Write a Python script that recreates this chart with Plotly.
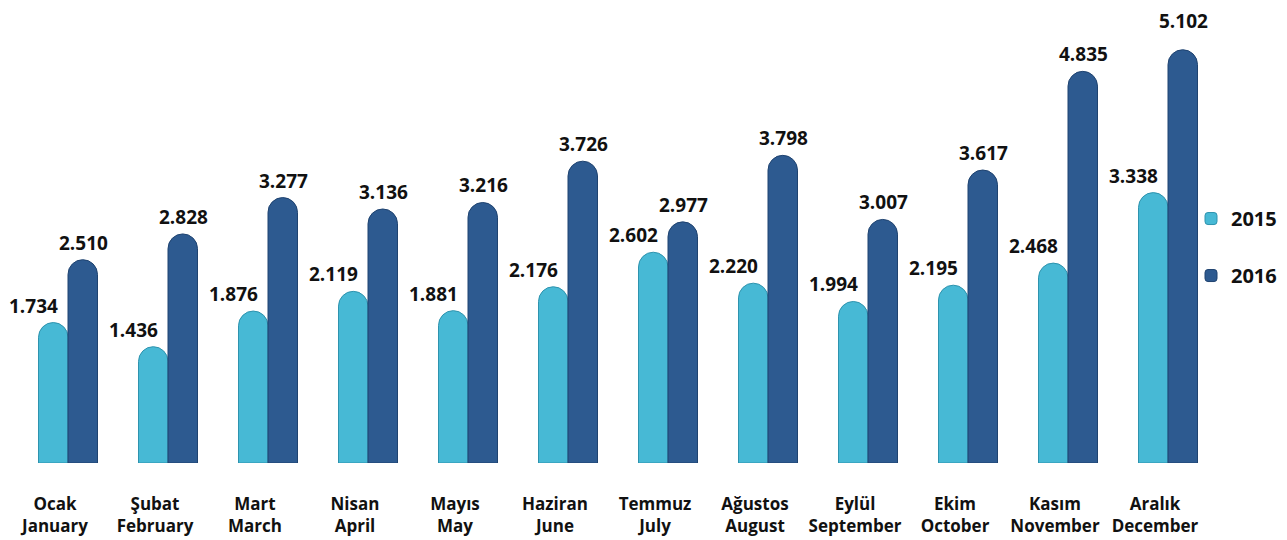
import plotly.graph_objects as go

# aylar / months (Türkçe + English)
months_tr = ["Ocak", "Şubat", "Mart", "Nisan", "Mayıs", "Haziran",
             "Temmuz", "Ağustos", "Eylül", "Ekim", "Kasım", "Aralık"]
months_en = ["January", "February", "March", "April", "May", "June",
             "July", "August", "September", "October", "November", "December"]

values_2015 = [1734, 1436, 1876, 2119, 1881, 2176, 2602, 2220, 1994, 2195, 2468, 3338]
values_2016 = [2510, 2828, 3277, 3136, 3216, 3726, 2977, 3798, 3007, 3617, 4835, 5102]

categories = [f"{tr}<br>{en}" for tr, en in zip(months_tr, months_en)]

FONT = "Open Sans"
COL_2015 = "#47B9D5"
COL_2016 = "#2D5A90"


def fmt(v):
    # Türkçe binlik ayırıcı: 1.734
    return f"{v:,}".replace(",", ".")


fig = go.Figure()
fig.add_trace(go.Bar(
    x=categories, y=values_2015, name="2015",
    marker=dict(color=COL_2015, line=dict(color="#2E93AE", width=1)),
    legendgroup="a",
))
fig.add_trace(go.Bar(
    x=categories, y=values_2016, name="2016",
    marker=dict(color=COL_2016, line=dict(color="#1F4370", width=1)),
    legendgroup="b",
))

# değer etiketleri
annotations = []
for cat, v in zip(categories, values_2015):
    annotations.append(dict(x=cat, y=v, text=fmt(v), showarrow=False,
                            xanchor="center", yanchor="bottom",
                            xshift=-35, yshift=2))
for cat, v in zip(categories, values_2016):
    ys = 2
    if v == max(values_2016):
        ys = 14  # en yüksek etiket biraz daha yukarıda
    annotations.append(dict(x=cat, y=v, text=fmt(v), showarrow=False,
                            xanchor="center", yanchor="bottom",
                            xshift=15, yshift=ys))

fig.update_layout(
    width=1287, height=540,
    margin=dict(l=10, r=77, t=3, b=85, autoexpand=False),
    plot_bgcolor="white", paper_bgcolor="white",
    barmode="group", bargap=0.41, bargroupgap=0,
    barcornerradius="50%",
    font=dict(family=FONT, size=19, color="#111111", weight="bold"),
    annotations=annotations,
    legend=dict(x=0.9775, y=0.584, xanchor="left", yanchor="top",
                font=dict(family=FONT, size=20, weight="bold"),
                tracegroupgap=28, bgcolor="rgba(0,0,0,0)"),
    xaxis=dict(showgrid=False, showline=False, zeroline=False,
               automargin=False, range=[-0.5, 11.5],
               ticks="", tickfont=dict(family=FONT, size=17, weight="bold"),
               ticklabelshift=-13, ticklabelstandoff=29),
    yaxis=dict(visible=False, range=[0, 5580], automargin=False),
)

fig.write_html("out.html")
